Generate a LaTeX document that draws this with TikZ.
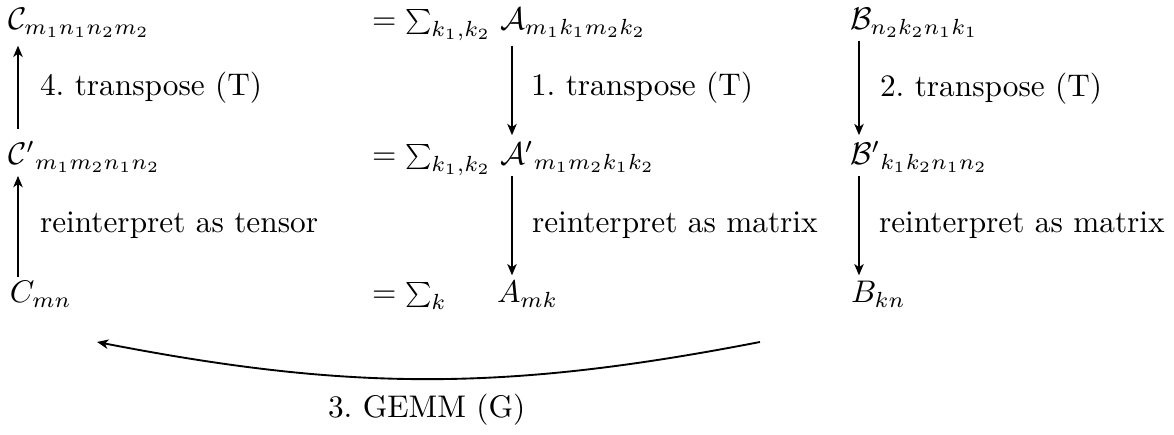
\documentclass[tikz,border=0pt]{standalone}
\usepackage{graphicx}
\usetikzlibrary{arrows.meta}
\newcommand{\smsum}{\mathop{\vcenter{\hbox{\scalebox{0.8}{$\textstyle\sum$}}}}\nolimits}
\begin{document}
\begin{tikzpicture}[x=0.3195pt,y=-0.3195pt,
  every node/.style={inner sep=0pt,outer sep=0pt,anchor=base west},
  arr/.style={line width=0.6pt,-{Stealth[length=3.6pt,width=3pt,inset=1pt]}}]
\useasboundingbox (0,0) rectangle (1174,435);
% column lines for the arrows
\coordinate (xL) at (18,0);
\coordinate (xA) at (512,0);
\coordinate (xB) at (859,0);
% row 1
\node (C1) at (8,30) {$\mathcal{C}_{m_1n_1n_2m_2}$};
\node (E1) at (372,30) {$=\smsum_{k_1,k_2}$};
\node (A1) at (500,30) {$\mathcal{A}_{m_1k_1m_2k_2}$};
\node (B1) at (850,30) {$\mathcal{B}_{n_2k_2n_1k_1}$};
% row 2
\node (C2) at (8,165) {${\mathcal{C}'}_{m_1m_2n_1n_2}$};
\node (E2) at (372,165) {$=\smsum_{k_1,k_2}$};
\node (A2) at (500,165) {${\mathcal{A}'}_{m_1m_2k_1k_2}$};
\node (B2) at (850,165) {${\mathcal{B}'}_{k_1k_2n_1n_2}$};
% row 3
\node (C3) at (10,303) {$C_{mn}$};
\node (E3) at (372,303) {$=\smsum_k$};
\node (A3) at (497,303) {$A_{mk}$};
\node (B3) at (851,303) {$B_{kn}$};
% arrows
\draw[arr,shorten <=4pt,shorten >=2.5pt] (C2.north -| xL) -- (C1.south -| xL);
\draw[arr,shorten <=1.5pt,shorten >=1pt] (C3.north -| xL) -- (C2.south -| xL);
\draw[arr,shorten <=2.5pt,shorten >=2pt] (A1.south -| xA) -- (A2.north -| xA);
\draw[arr,shorten <=1pt,shorten >=2pt] (A2.south -| xA) -- (A3.north -| xA);
\draw[arr,shorten <=1pt,shorten >=2pt] (B1.south -| xB) -- (B2.north -| xB);
\draw[arr,shorten <=1pt,shorten >=2pt] (B2.south -| xB) -- (B3.north -| xB);
% labels
\node (L4) at (40,96) {4.\ transpose (T)};
\node (L1) at (531,96) {1.\ transpose (T)};
\node (L2) at (880,97) {2.\ transpose (T)};
\node (Lt) at (40,233) {reinterpret as tensor};
\node (LmA) at (532,233) {reinterpret as matrix};
\node (LmB) at (879,233) {reinterpret as matrix};
% GEMM
\coordinate (gS) at (760,342);
\coordinate (gE) at (97,342);
\draw[arr] (gS) to[bend left=11] (gE);
\node (G) at (328,418) {3.\ GEMM (G)};
\end{tikzpicture}
\end{document}
